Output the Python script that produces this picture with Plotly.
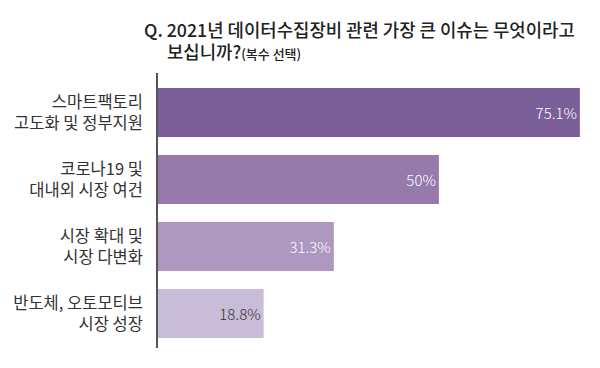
import plotly.graph_objects as go

categories = ["스마트팩토리<br>고도화 및 정부지원", "코로나19 및<br>대내외 시장 여건",
              "시장 확대 및<br>시장 다변화", "반도체, 오토모티브<br>시장 성장"]
values = [75.1, 50, 31.3, 18.8]
value_labels = ["75.1%", "50%", "31.3%", "18.8%"]
bar_colors = ["#7a5f98", "#957aab", "#ae98c0", "#c9bcd8"]
text_colors = ["#ffffff", "#ffffff", "#ffffff", "#333333"]

ypos = list(range(len(categories)))
FONT = "Noto Sans CJK KR"

fig = go.Figure(go.Bar(
    x=values, y=ypos, orientation="h",
    marker=dict(color=bar_colors, line=dict(width=0)),
    text=value_labels, textposition="inside", insidetextanchor="end",
    textfont=dict(family=FONT, size=15, color=text_colors, weight=300),
    width=0.73, hoverinfo="skip",
))

fig.update_layout(
    template="none",
    width=600, height=368,
    margin=dict(l=158, r=10, t=73, b=20, autoexpand=False),
    paper_bgcolor="white", plot_bgcolor="white",
    showlegend=False,
    font=dict(family=FONT, color="#333333"),
    xaxis=dict(range=[0, 76.9], visible=False, fixedrange=True, automargin=False),
    yaxis=dict(range=[3.515, -0.59], tickmode="array", tickvals=ypos, ticktext=categories,
               showline=True, linecolor="#555555", linewidth=1.5, showgrid=False, zeroline=False,
               ticks="", ticklabelstandoff=10, automargin=False, fixedrange=True,
               tickfont=dict(family=FONT, size=16.5, color="#333333", weight=400)),
    annotations=[
        dict(text="Q. 2021년 데이터수집장비 관련 가장 큰 이슈는 무엇이라고",
             xref="paper", yref="paper", x=(142 - 158) / 432, y=(348 - 29) / 275,
             xanchor="left", yanchor="middle", showarrow=False,
             font=dict(family=FONT, size=17.8, color="#222222", weight=500)),
        dict(text="보십니까?<span style='font-size:13px'>(복수 선택)</span>",
             xref="paper", yref="paper", x=(165 - 158) / 432, y=(348 - 51) / 275,
             xanchor="left", yanchor="middle", showarrow=False,
             font=dict(family=FONT, size=17.8, color="#222222", weight=500)),
    ],
)

fig.write_html("out.html", config={"displayModeBar": False},
               post_script="document.body.style.margin='0px';")
